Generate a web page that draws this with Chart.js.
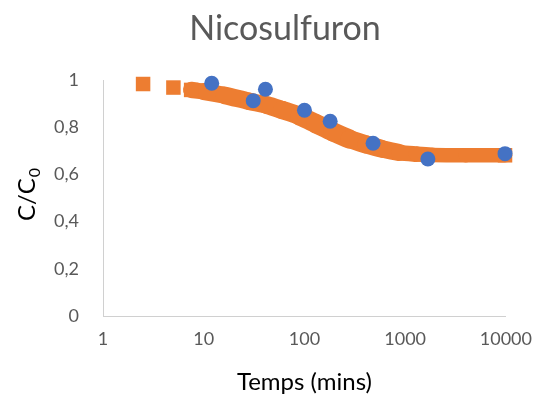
<!DOCTYPE html>
<html>
<head>
<meta charset="utf-8">
<script src="https://cdn.jsdelivr.net/npm/chart.js@4"></script>
<style>
  html, body { margin: 0; padding: 0; background: #ffffff; }
  #wrap { width: 544px; height: 405px; position: relative; }
</style>
</head>
<body>
<div id="wrap"><canvas id="c"></canvas></div>
<script>
// ---- data ----
const chartTitle = 'Nicosulfuron';
const xAxisTitle = 'Temps (mins)';
const yAxisTitleMain = 'C/C';
const yAxisTitleSub = '0';

// measured points (blue circles)
const measuredTime = [12, 31, 41, 100, 180, 480, 1680, 9800];
const measuredRatio = [0.986, 0.912, 0.961, 0.872, 0.825, 0.732, 0.665, 0.688];

// model curve (orange squares)
const modelTime = [2.5, 5, 7.5, 10, 16, 28, 42, 60, 90, 130, 190, 280, 410, 590, 870, 1290, 1850, 4000, 9800];
const modelRatio = [0.983, 0.968, 0.958, 0.951, 0.935, 0.910, 0.894, 0.873, 0.847, 0.815, 0.781, 0.750, 0.727, 0.708, 0.693, 0.686, 0.682, 0.681, 0.681];

// tick labels
const xTickValues = [1, 10, 100, 1000, 10000];
const xTickLabels = ['1', '10', '100', '1000', '10000'];
const yTickLabels = ['0', '0,2', '0,4', '0,6', '0,8', '1'];

const ORANGE = '#ED7D31';
const BLUE = '#4472C4';
const FONT = 'Lato, "Open Sans", "Liberation Sans", sans-serif';
const SQUARE = 14.5; // marker side in px

const toXY = (xs, ys) => xs.map((x, i) => ({ x: x, y: ys[i] }));

// a band swept by square markers is thicker where the curve slopes
const bandWidth = ctx => {
  const dx = ctx.p1.x - ctx.p0.x;
  const dy = ctx.p1.y - ctx.p0.y;
  const m = dx !== 0 ? Math.abs(dy / dx) : 0;
  return SQUARE * (1 + m) / Math.sqrt(1 + m * m);
};

const titlesPlugin = {
  id: 'titlesPlugin',
  afterDraw(chart) {
    const ctx = chart.ctx;
    ctx.save();
    ctx.fillStyle = '#595959';
    ctx.font = '34px ' + FONT;
    ctx.textAlign = 'center';
    ctx.textBaseline = 'alphabetic';
    ctx.fillText(chartTitle, 285, 40);
    ctx.fillStyle = '#000000';
    ctx.translate(35, 221);
    ctx.rotate(-Math.PI / 2);
    ctx.textAlign = 'left';
    ctx.font = '24px ' + FONT;
    ctx.fillText(yAxisTitleMain, 0, 0);
    const w = ctx.measureText(yAxisTitleMain).width;
    ctx.font = '16px ' + FONT;
    ctx.fillText(yAxisTitleSub, w + 1, 5);
    ctx.restore();
  }
};

const lastModel = modelTime.length - 1;

new Chart(document.getElementById('c'), {
  type: 'scatter',
  data: {
    datasets: [
      {
        label: 'Mesures',
        data: toXY(measuredTime, measuredRatio),
        backgroundColor: BLUE,
        borderColor: BLUE,
        borderWidth: 0,
        pointRadius: 7.5,
        pointHoverRadius: 7.5,
        pointStyle: 'circle',
        showLine: false,
        clip: false
      },
      {
        label: 'Modèle',
        data: toXY(modelTime, modelRatio),
        backgroundColor: ORANGE,
        borderColor: ORANGE,
        borderWidth: SQUARE,
        pointBorderWidth: 0,
        pointRadius: ctx => (ctx.dataIndex <= 2 || ctx.dataIndex === lastModel) ? SQUARE / Math.SQRT2 : 0,
        pointHoverRadius: 0,
        pointStyle: 'rect',
        showLine: true,
        cubicInterpolationMode: 'monotone',
        borderJoinStyle: 'round',
        borderCapStyle: 'round',
        segment: {
          borderColor: ctx => ctx.p0DataIndex < 2 ? 'rgba(0,0,0,0)' : ORANGE,
          borderWidth: ctx => ctx.p0DataIndex < 2 ? 0 : bandWidth(ctx)
        },
        clip: false
      }
    ]
  },
  options: {
    responsive: true,
    maintainAspectRatio: false,
    animation: false,
    events: [],
    layout: { padding: { left: 0, right: 36, top: 80, bottom: 0 } },
    plugins: {
      legend: { display: false },
      tooltip: { enabled: false },
      title: { display: false }
    },
    scales: {
      x: {
        type: 'logarithmic',
        position: 'bottom',
        min: 1,
        max: 10000,
        afterBuildTicks: s => { s.ticks = xTickValues.map(v => ({ value: v, major: true })); },
        afterFit: s => { s.height = 89; },
        grid: { display: false, drawTicks: false },
        border: { display: true, color: '#d0d0d0', width: 1 },
        ticks: {
          padding: 12,
          color: '#595959',
          font: { family: FONT, size: 18 },
          maxRotation: 0,
          autoSkip: false,
          callback: (v, i) => xTickLabels[i]
        },
        title: {
          display: true,
          text: xAxisTitle,
          color: '#000000',
          font: { family: FONT, size: 24 },
          padding: { top: 0, bottom: 8 }
        }
      },
      y: {
        type: 'linear',
        min: 0,
        max: 1,
        afterBuildTicks: s => { s.ticks = yTickLabels.map((t, i) => ({ value: i * 0.2 })); },
        afterFit: s => { s.width = 103; },
        grid: { display: false, drawTicks: false },
        border: { display: true, color: '#d0d0d0', width: 1 },
        ticks: {
          padding: 24,
          color: '#595959',
          font: { family: FONT, size: 18 },
          callback: (v, i) => yTickLabels[i]
        }
      }
    }
  },
  plugins: [titlesPlugin]
});
</script>
</body>
</html>
